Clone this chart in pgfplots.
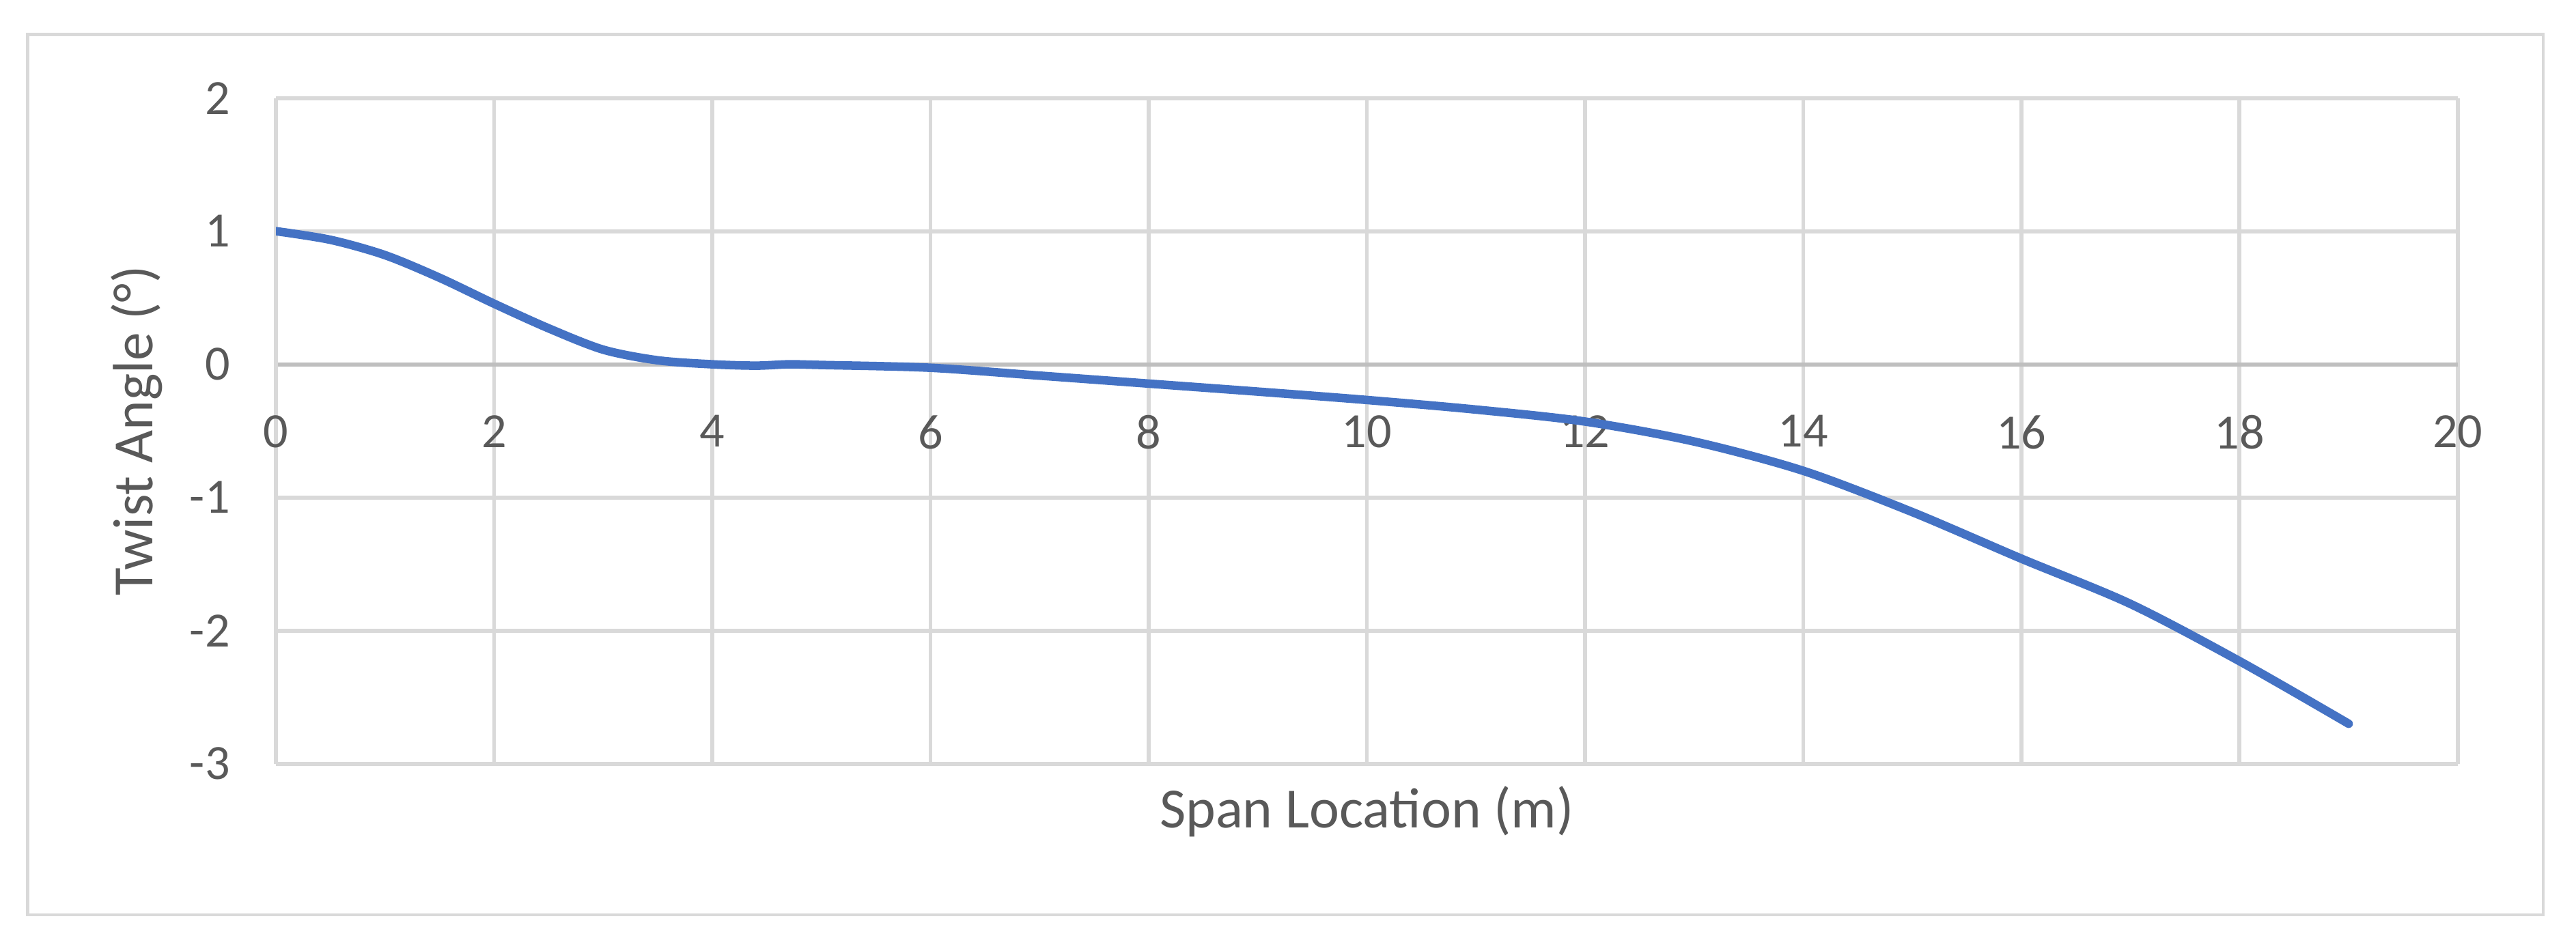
\documentclass[border=0pt]{standalone}
\usepackage{fontspec}
\setmainfont{Carlito}
\usepackage{pgfplots}
\pgfplotsset{compat=1.18}
\definecolor{txt}{HTML}{595959}
\definecolor{gridc}{HTML}{D9D9D9}
\definecolor{zeroc}{HTML}{BFBFBF}
\definecolor{linec}{HTML}{4472C4}
\begin{document}
\begin{tikzpicture}
\path[fill=white] (0,0) rectangle (784pt,289.5pt);
\draw[gridc, line width=1pt] (8.5pt,11pt) rectangle (774pt,279pt);
\begin{axis}[
  at={(84pt,57pt)}, anchor=south west,
  scale only axis, width=664pt, height=202.65pt,
  xmin=0, xmax=20, ymin=-3, ymax=2,
  xtick={0,2,...,20}, ytick={-3,-2,-1,0,1,2},
  axis x line=middle, axis y line=left,
  hide obscured x ticks=false, hide obscured y ticks=false,
  x axis line style={draw=zeroc, line width=1.2pt, -},
  y axis line style={draw=gridc, line width=1.2pt, -},
  major tick length=0pt,
  grid=major, major grid style={draw=gridc, line width=1.2pt},
  /pgf/number format/assume math mode=true,
  ticklabel style={font=\fontsize{15}{18}\selectfont, text=txt},
  x tick label style={anchor=north, yshift=-12pt},
  y tick label style={anchor=east, xshift=-10.5pt},
  xlabel={Span Location (m)}, ylabel={Twist Angle (°)},
  label style={font=\fontsize{17.3}{20}\selectfont, text=txt},
  x label style={at={(axis description cs:0.5,-0.0962)}, anchor=base},
  y label style={at={(axis description cs:-0.0565,0.5)}, anchor=base},
]
\addplot[linec, line width=2.6pt, smooth, no markers, line cap=round] coordinates {
(0,1.0) (0.5,0.935) (1,0.82) (1.5,0.65) (2,0.455) (2.5,0.27) (3,0.11) (3.5,0.03)
(4,0.0) (4.4,-0.01) (4.7,0.0) (5,-0.005) (6,-0.026) (7,-0.085) (8,-0.145)
(9,-0.205) (10,-0.268) (11,-0.34) (12,-0.43) (13,-0.58) (14,-0.80) (15,-1.11)
(16,-1.46) (17,-1.80) (18,-2.23) (19,-2.70)
};
\end{axis}
\end{tikzpicture}
\end{document}
